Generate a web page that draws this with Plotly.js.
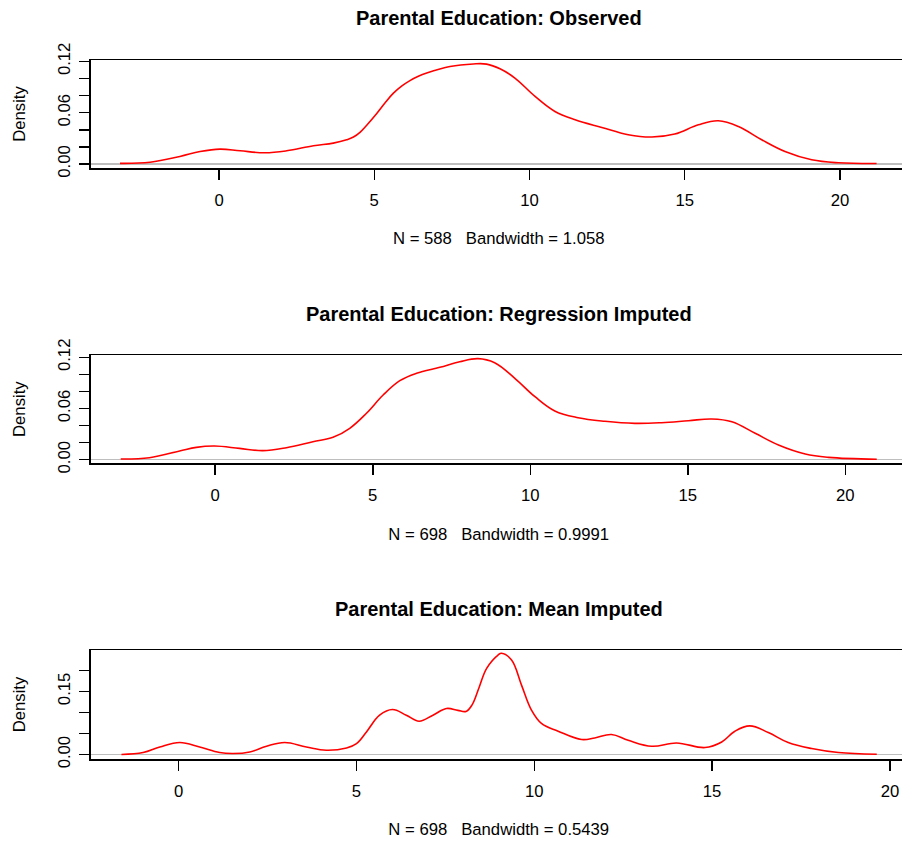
<!DOCTYPE html>
<html>
<head>
<meta charset="utf-8">
<script src="https://cdn.plot.ly/plotly-3.0.1.min.js"></script>
<style>
html,body{margin:0;padding:0;overflow:hidden;background:#fff;}
#chart{width:910px;height:841px;}
</style>
</head>
<body>
<div id="chart"></div>
<script>
// ---- Data (kernel density curves) ----
const titles = ["Parental Education: Observed", "Parental Education: Regression Imputed", "Parental Education: Mean Imputed"];
const subLabels = ["N = 588   Bandwidth = 1.058", "N = 698   Bandwidth = 0.9991", "N = 698   Bandwidth = 0.5439"];

const obsX = [-3.19,-2.22,-1.26,-0.61,0.03,0.68,1.48,2.18,3.04,3.68,4.11,4.33,4.54,4.75,5.08,5.35,5.61,5.88,6.15,6.42,6.69,7.44,8.19,8.62,9.05,9.53,10.18,10.82,11.47,12.33,13.18,13.94,14.68,15.44,16.08,16.73,17.48,18.23,19.09,19.95,21.18];
const obsY = [0.0007,0.002,0.0088,0.0146,0.0174,0.0154,0.0131,0.0154,0.0213,0.0244,0.0283,0.0315,0.037,0.045,0.059,0.0715,0.0825,0.091,0.0975,0.1025,0.1063,0.114,0.117,0.1168,0.1113,0.1005,0.079,0.0614,0.0517,0.0427,0.0342,0.0315,0.035,0.0458,0.0505,0.0439,0.0283,0.0146,0.0049,0.0014,0.0005];

const regX = [-3.0,-2.09,-1.13,-0.60,-0.02,0.77,1.51,2.26,3.10,3.74,4.27,4.80,5.33,5.86,6.39,7.13,7.76,8.34,8.87,9.51,10.15,10.78,11.52,12.37,13.32,14.17,15.02,15.76,16.40,17.14,17.88,18.73,19.47,21.0];
const regY = [0.0008,0.0023,0.0102,0.0145,0.016,0.0133,0.0106,0.0141,0.0211,0.0262,0.0368,0.0544,0.0758,0.0926,0.1013,0.1083,0.1148,0.1184,0.1137,0.0954,0.0738,0.0571,0.0492,0.045,0.0426,0.0434,0.0457,0.0477,0.0445,0.0309,0.0172,0.0067,0.0028,0.0006];

const meanX = [-1.61,-1.00,-0.53,0.03,0.59,1.15,1.53,2.0,2.47,2.98,3.59,4.15,4.72,5.0,5.28,5.65,6.01,6.40,6.76,7.15,7.53,7.85,8.08,8.25,8.45,8.66,8.98,9.08,9.36,9.64,9.92,10.20,10.67,11.33,11.70,12.17,12.64,13.30,14.0,14.80,15.27,15.64,16.06,16.58,17.14,17.80,18.55,19.63];
const meanY = [0.0003,0.0048,0.018,0.0286,0.018,0.0048,0.0024,0.0062,0.0198,0.0286,0.018,0.0102,0.0157,0.026,0.0538,0.0936,0.107,0.0936,0.0793,0.0936,0.1095,0.105,0.1025,0.118,0.16,0.2048,0.2364,0.2405,0.2245,0.165,0.1055,0.0738,0.0555,0.0357,0.0395,0.0476,0.034,0.0198,0.0276,0.0167,0.03,0.0555,0.0681,0.0524,0.0286,0.0143,0.0048,0.0007];

const xTicks = [0,5,10,15,20];
const yTicks12 = [0,0.02,0.04,0.06,0.08,0.10,0.12];
const yText12 = ["0.00","","","0.06","","","0.12"];
const yTicks20 = [0,0.05,0.10,0.15,0.20];
const yText20 = ["0.00","","","0.15",""];

// ---- Layout geometry ----
const W = 910, H = 841;
const FONT = "Liberation Sans, Arial, Helvetica, sans-serif";
const xDom = [90.5/W, 907/W];
const boxes = [[60,168],[355,463.3],[650,759]];
const xRanges = [[-4.14,22.16],[-3.96,21.96],[-2.48,20.48]];
const yRanges = [[-0.0047,0.1216],[-0.0042,0.1227],[-0.0105,0.2483]];
const titleY = [18.5, 314, 609];

function yd(b){ return [1 - b[1]/H, 1 - b[0]/H]; }

const xs = [obsX, regX, meanX];
const ys = [obsY, regY, meanY];
const data = [];
const layout = {
  width: W, height: H,
  margin: {l:0, r:0, t:0, b:0},
  paper_bgcolor: "#fff", plot_bgcolor: "#fff",
  showlegend: false,
  font: {family: FONT, size: 16.7, color: "#000"},
  annotations: []
};

for (let i = 0; i < 3; i++) {
  const sfx = i === 0 ? "" : String(i+1);
  data.push({
    x: xs[i], y: ys[i], type: "scatter", mode: "lines",
    xaxis: "x" + sfx, yaxis: "y" + sfx,
    line: {color: "#FF0000", width: 1.6, shape: "spline", smoothing: 1.1},
    hoverinfo: "x+y"
  });
  const tv = i === 2 ? yTicks20 : yTicks12;
  const tt = i === 2 ? yText20 : yText12;
  layout["xaxis" + sfx] = {
    domain: xDom, anchor: "y" + sfx, range: xRanges[i],
    showgrid: false, zeroline: false,
    showline: true, mirror: true, linecolor: "#000", linewidth: 1.5,
    ticks: "outside", ticklen: 10, tickwidth: 1.5, tickcolor: "#000",
    tickmode: "array", tickvals: xTicks, ticktext: xTicks.map(String),
    tickfont: {family: FONT, size: 16.7, color: "#000"},
    ticklabelstandoff: 6,
    title: {text: subLabels[i], font: {family: FONT, size: 16.7, color: "#000"}, standoff: 24},
    fixedrange: true, automargin: false
  };
  layout["yaxis" + sfx] = {
    domain: yd(boxes[i]), anchor: "x" + sfx, range: yRanges[i],
    showgrid: false,
    zeroline: true, zerolinecolor: "#BEBEBE", zerolinewidth: 1.2,
    showline: true, mirror: true, linecolor: "#000", linewidth: 1.5,
    ticks: "outside", ticklen: 10, tickwidth: 1.5, tickcolor: "#000",
    tickmode: "array", tickvals: tv, ticktext: tt, tickangle: -90,
    tickfont: {family: FONT, size: 16.7, color: "#000"},
    ticklabelstandoff: 2,
    title: {text: "Density", font: {family: FONT, size: 16.7, color: "#000"}, standoff: 25},
    fixedrange: true, automargin: false
  };
  layout.annotations.push({
    xref: "paper", yref: "paper", x: 498.5/W, y: 1 - titleY[i]/H,
    xanchor: "center", yanchor: "middle", showarrow: false,
    text: "<b>" + titles[i] + "</b>",
    font: {family: FONT, size: 20, color: "#000"}
  });
}

Plotly.newPlot("chart", data, layout, {staticPlot: true, displayModeBar: false});
</script>
</body>
</html>
